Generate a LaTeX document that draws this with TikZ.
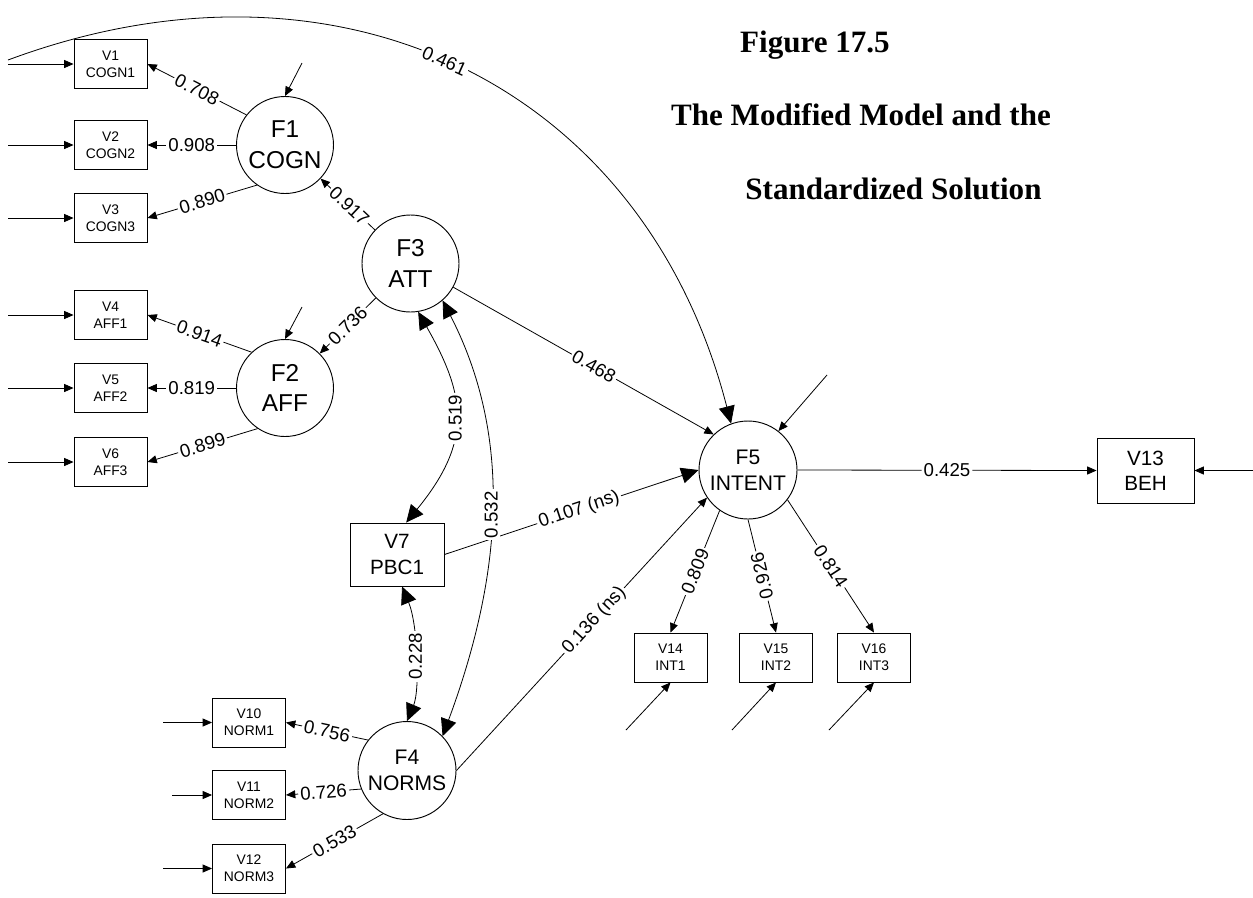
\documentclass[tikz,border=0pt]{standalone}
\usepackage{fontspec}
\setmainfont{Liberation Sans}
\newfontfamily\titlefont{Liberation Serif}
\usetikzlibrary{arrows.meta}
\begin{document}
\begin{tikzpicture}[x=0.75pt,y=-0.75pt,line width=0.6pt,
  sbox/.style={draw,line width=0.7pt,minimum width=54.75pt,minimum height=36.75pt,inner sep=0pt,align=center,font=\fontsize{10.4}{12.75}\selectfont},
  mbox/.style={draw,line width=0.7pt,minimum width=70.5pt,minimum height=47.25pt,inner sep=0pt,align=center,font=\fontsize{15.5}{19}\selectfont},
  bigf/.style={draw,circle,line width=0.7pt,minimum size=72.75pt,inner sep=0pt,align=center,font=\fontsize{18.3}{23}\selectfont},
  midf/.style={draw,circle,line width=0.7pt,minimum size=73.5pt,inner sep=0pt,align=center,font=\fontsize{15.8}{19.5}\selectfont},
  sa/.style={-{Triangle[length=7pt,width=6pt]}},
  ba/.style={-{Triangle[length=13pt,width=12pt]}},
  bb/.style={{Triangle[length=13pt,width=12pt]}-{Triangle[length=13pt,width=12pt]}},
  lb/.style={fill=white,inner sep=1.5pt,font=\fontsize{14}{16}\selectfont},
  lab/.style={lb,sloped},
  ttl/.style={anchor=base,font=\titlefont\bfseries\fontsize{23.3}{28}\selectfont}
]
\useasboundingbox (0,0) rectangle (1253,897);

% title
\node[ttl] (t1) at (815,52) {Figure 17.5};
\node[ttl] (t2) at (861,125) {The Modified Model and the};
\node[ttl] (t3) at (893.5,199) {Standardized Solution};

% measured variables
\node[sbox] (V1) at (110.5,64) {V1\\COGN1};
\node[sbox] (V2) at (110.5,145) {V2\\COGN2};
\node[sbox] (V3) at (110.5,218) {V3\\COGN3};
\node[sbox] (V4) at (110.5,315) {V4\\AFF1};
\node[sbox] (V5) at (110.5,388) {V5\\AFF2};
\node[sbox] (V6) at (110.5,462) {V6\\AFF3};
\node[sbox] (V10) at (249,722.5) {V10\\NORM1};
\node[sbox] (V11) at (249,795) {V11\\NORM2};
\node[sbox] (V12) at (249,868.5) {V12\\NORM3};
\node[sbox] (V14) at (670.5,657.5) {V14\\INT1};
\node[sbox] (V15) at (776,657.5) {V15\\INT2};
\node[sbox] (V16) at (874,657.5) {V16\\INT3};
\node[mbox] (V7) at (397,554.5) {V7\\PBC1};
\node[mbox,minimum width=72.75pt,minimum height=48.75pt] (V13) at (1145.5,470.5) {V13\\BEH};

% factors
\node[bigf] (F1) at (285,145) {F1\\COGN};
\node[bigf] (F2) at (285,388) {F2\\AFF};
\node[bigf] (F3) at (410.5,263.5) {F3\\ATT};
\node[midf] (F4) at (407,770.5) {F4\\NORMS};
\node[midf] (F5) at (748,470) {F5\\INTENT};

% free ends
\coordinate (e1) at (8,64);
\coordinate (e2) at (8,145);
\coordinate (e3) at (8,218);
\coordinate (e4) at (8,315);
\coordinate (e5) at (8,388);
\coordinate (e6) at (8,462);
\coordinate (e10) at (163,722.5);
\coordinate (e11) at (172,795);
\coordinate (e12) at (163,868.5);
\coordinate (e13) at (1253,470.5);
\coordinate (e14) at (626,730);
\coordinate (e15) at (732,730);
\coordinate (e16) at (829,730);
\coordinate (d1) at (302,63);
\coordinate (d2) at (302,307);
\coordinate (d5) at (827,375);
\coordinate (a0) at (8,60);

% error arrows
\draw[sa] (e1) -- (V1);
\draw[sa] (e2) -- (V2);
\draw[sa] (e3) -- (V3);
\draw[sa] (e4) -- (V4);
\draw[sa] (e5) -- (V5);
\draw[sa] (e6) -- (V6);
\draw[sa] (e10) -- (V10);
\draw[sa] (e11) -- (V11);
\draw[sa] (e12) -- (V12);
\draw[sa] (e13) -- (V13.east);
\draw[sa] (e14) -- (V14.south);
\draw[sa] (e15) -- (V15.south);
\draw[sa] (e16) -- (V16.south);
\draw[sa] (d1) -- (F1.north);
\draw[sa] (d2) -- (F2.north);
\draw[sa] (d5) -- (F5.52);

% loadings
\draw[sa] (F1.142) -- node[lab]{0.708} (V1.east);
\draw[sa] (F1) -- node[lab]{0.908} (V2);
\draw[sa] (F1.-125) -- node[lab]{0.890} (V3.east);
\draw[sa] (F2.133) -- node[lab]{0.914} (V4.east);
\draw[sa] (F2) -- node[lab]{0.819} (V5);
\draw[sa] (F2.-124) -- node[lab]{0.899} (V6.east);
\draw[sa] (F4.142) -- node[lab]{0.756} (V10.east);
\draw[sa] (F4.-158) -- node[lab]{0.726} (V11.east);
\draw[sa] (F4.-119) -- node[lab]{0.533} (V12.east);
\draw[sa] (F5.-125) -- node[lab]{0.809} (V14.north);
\draw[sa] (F5.-90) -- node[lb,rotate=103.5]{0.926} (V15.north);
\draw[sa] (F5.-37) -- node[lab]{0.814} (V16.north);

% structural paths
\draw[sa] (F3) -- node[lab,pos=0.47]{0.917} (F1);
\draw[sa] (F3) -- node[lab]{0.736} (F2);
\draw[sa] (F3.-29) -- node[lab,pos=0.54]{0.468} (F5.134);
\draw[ba] (V7.east) -- node[lab,pos=0.53]{0.107 (ns)} (F5.180);
\draw[sa] (F4.east) -- node[lab,pos=0.55]{0.136 (ns)} (F5.-146);
\draw[sa] (F5.east) -- node[lab]{0.425} (V13.west);
\draw[ba] (a0) .. controls (337,-62.5) and (643.5,83.5) .. node[lab,pos=0.48]{0.461} (F5.110);

% covariances
\draw[bb] (F3.-81) .. controls (466,396) and (473,441) .. node[lb,rotate=90]{0.519} (V7.74);
\draw[bb] (F3.-49) .. controls (516,443) and (499,584) .. node[lb,rotate=90]{0.532} (F4.44);
\draw[bb] (V7.-81) .. controls (418,625) and (420,690) .. node[lb,rotate=90]{0.228} (F4.north);
\end{tikzpicture}
\end{document}
